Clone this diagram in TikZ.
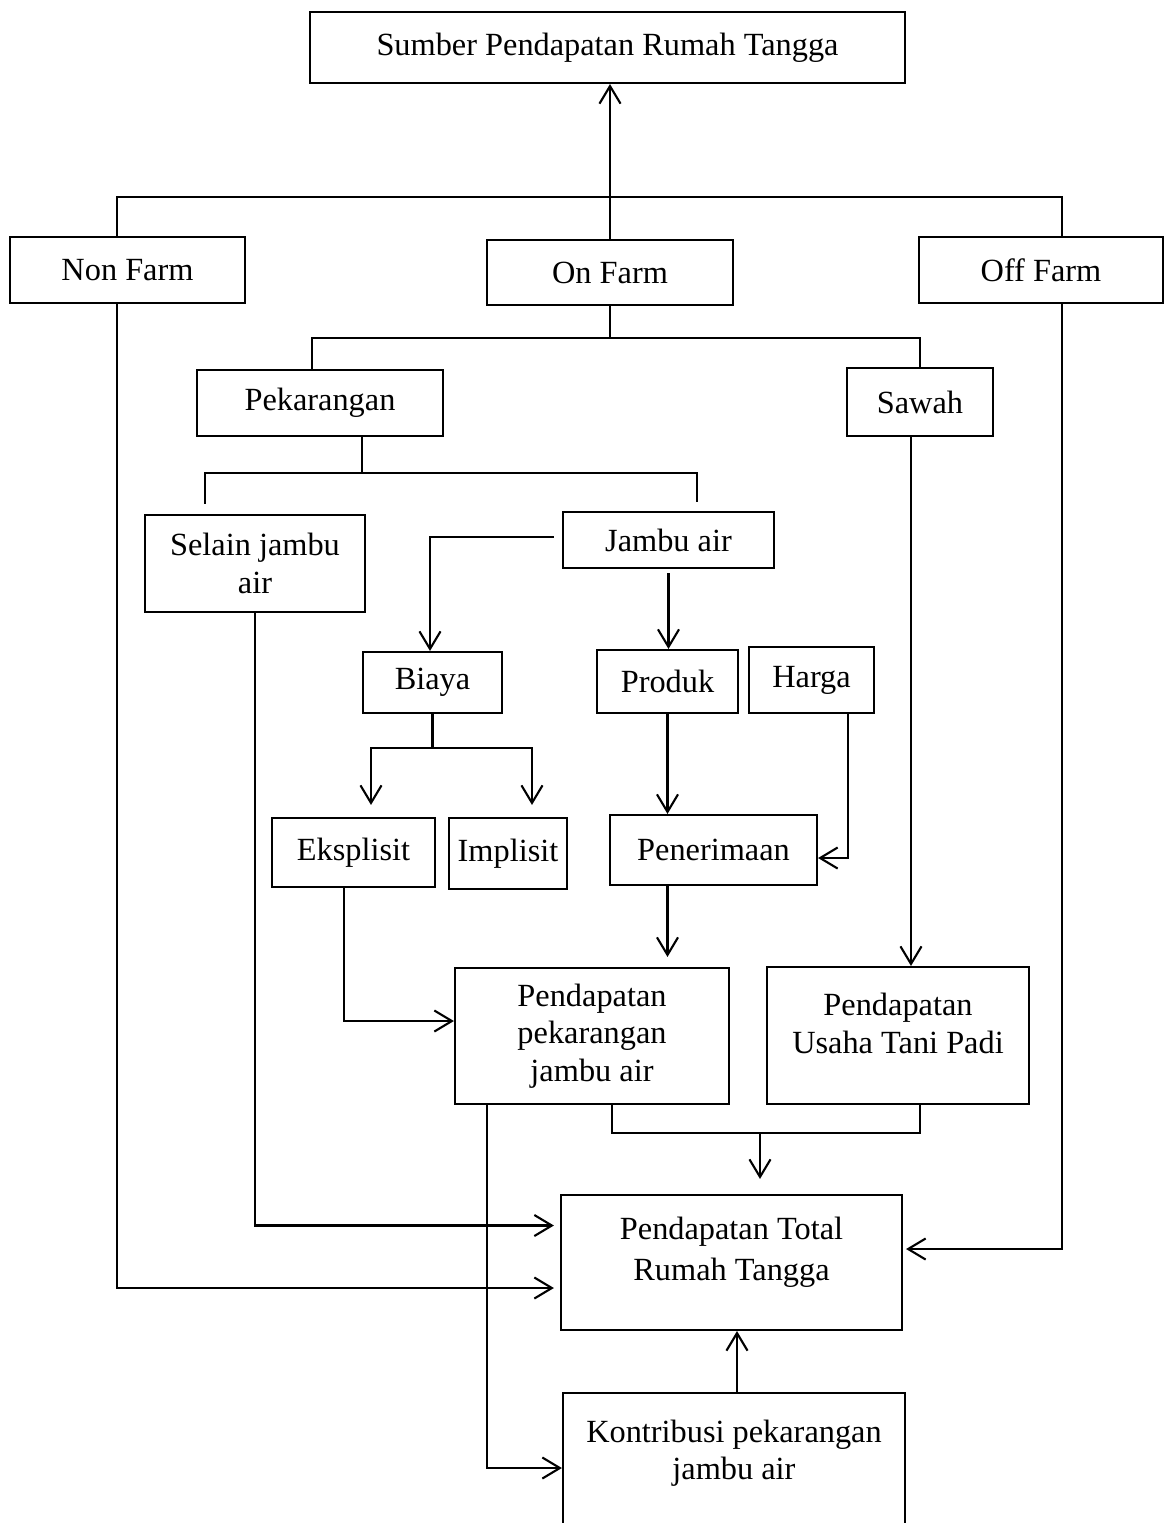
\documentclass[tikz,border=0pt]{standalone}
\usepackage{fontspec}
\setmainfont{Liberation Serif}
\usetikzlibrary{arrows.meta}

\begin{document}
\begin{tikzpicture}[font=\fontsize{9.2}{10.6}\selectfont, line width=0.6pt,
  >={Straight Barb[length=5pt, width=6pt]},
  kotak/.style={draw, inner sep=0pt, align=center}]
  \useasboundingbox (0,0) rectangle (11.65,-15.23);
  \node[kotak, minimum width=5.95cm, minimum height=0.71cm] (sumber) at (6.075,-0.475) {Sumber Pendapatan Rumah Tangga};
  \node[kotak, minimum width=2.35cm, minimum height=0.66cm] (nonfarm) at (1.275,-2.70) {Non Farm};
  \node[kotak, minimum width=2.46cm, minimum height=0.65cm] (onfarm) at (6.10,-2.725) {On Farm};
  \node[kotak, minimum width=2.44cm, minimum height=0.66cm] (offfarm) at (10.41,-2.70) {Off Farm};
  \node[kotak, minimum width=2.46cm, minimum height=0.66cm] (pekarangan) at (3.20,-4.03) {Pekarangan};
  \node[kotak, minimum width=1.46cm, minimum height=0.68cm] (sawah) at (9.20,-4.02) {Sawah};
  \node[kotak, minimum width=2.20cm, minimum height=0.97cm] (selain) at (2.55,-5.635) {Selain jambu\\air};
  \node[kotak, minimum width=2.11cm, minimum height=0.56cm] (jambu) at (6.685,-5.40) {Jambu air};
  \node[kotak, minimum width=1.39cm, minimum height=0.61cm] (biaya) at (4.325,-6.825) {Biaya};
  \node[kotak, minimum width=1.41cm, minimum height=0.63cm] (produk) at (6.675,-6.815) {Produk};
  \node[kotak, minimum width=1.25cm, minimum height=0.66cm] (harga) at (8.115,-6.80) {Harga};
  \node[kotak, minimum width=1.63cm, minimum height=0.69cm] (eksplisit) at (3.535,-8.525) {Eksplisit};
  \node[kotak, minimum width=1.18cm, minimum height=0.71cm] (implisit) at (5.08,-8.535) {Implisit};
  \node[kotak, minimum width=2.07cm, minimum height=0.70cm] (penerimaan) at (7.135,-8.50) {Penerimaan};
  \node[kotak, minimum width=2.74cm, minimum height=1.36cm] (pdpjambu) at (5.92,-10.36) {Pendapatan\\pekarangan\\jambu air};
  \node[kotak, minimum width=2.62cm, minimum height=1.37cm] (pdppadi) at (8.98,-10.355) {Pendapatan\\Usaha Tani Padi\\[-0.13cm]};
  \node[kotak, minimum width=3.41cm, minimum height=1.35cm] (total) at (7.315,-12.625) {Pendapatan Total\\[0.04cm]Rumah Tangga\\[-0.1cm]};
  \node[kotak, minimum width=3.42cm, minimum height=1.50cm] (kontribusi) at (7.34,-14.68) {Kontribusi pekarangan\\jambu air\\[-0.01cm]};

  \coordinate (kiri) at (1.17,-1.97);
  \coordinate (kanan) at (10.62,-1.97);
  \draw (kiri |- nonfarm.north) -- (kiri) -- (kanan) -- (kanan |- offfarm.north);
  \draw[->] (onfarm.north) -- (onfarm.north |- sumber.south);

  \coordinate (pek) at (3.12,-3.38);
  \coordinate (saw) at (9.20,-3.38);
  \draw (onfarm.south) -- (onfarm.south |- pek);
  \draw (pek |- pekarangan.north) -- (pek) -- (saw) -- (sawah.north);

  \coordinate (sel) at (2.05,-4.73);
  \coordinate (jam) at (6.97,-4.73);
  \draw ([xshift=0.42cm]pekarangan.south) -- ([xshift=0.42cm]pekarangan.south |- sel);
  \draw[shorten <=0.1cm, shorten >=0.09cm] (sel |- selain.north) -- (sel) -- (jam) -- (jam |- jambu.north);

  \draw[->, shorten <=0.08cm] ([yshift=0.03cm]jambu.west) -| ([xshift=-0.025cm]biaya.north);
  \draw[->, shorten <=0.04cm] (jambu.south) -- (jambu.south |- produk.north);

  \coordinate (eks) at (3.71,-7.48);
  \coordinate (imp) at (5.32,-7.48);
  \draw (biaya.south) -- (biaya.south |- eks);
  \draw[<->, shorten <=0.12cm, shorten >=0.12cm] (eks |- eksplisit.north) -- (eks) -- (imp) -- (imp |- implisit.north);

  \draw[->] (produk.south) -- (produk.south |- penerimaan.north);
  \draw[->] ([xshift=0.365cm]harga.south) |- ([yshift=-0.08cm]penerimaan.east);
  \draw[->, shorten >=0.1cm] (produk.south |- penerimaan.south) -- (produk.south |- pdpjambu.north);
  \draw[->] ([xshift=-0.09cm]sawah.south) -- ([xshift=-0.09cm]sawah.south |- pdppadi.north);
  \draw[->] ([xshift=-0.095cm]eksplisit.south) |- ([yshift=0.15cm]pdpjambu.west);

  \coordinate (gab) at (7.60,-11.33);
  \draw ([xshift=0.2cm]pdpjambu.south) |- (gab) -| ([xshift=0.22cm]pdppadi.south);
  \draw[->, shorten >=0.15cm] (gab) -- (gab |- total.north);

  \draw[->, shorten >=0.06cm] (selain.south) |- ([yshift=0.37cm]total.west);
  \draw[->, shorten >=0.06cm] (kiri |- nonfarm.south) |- ([yshift=-0.255cm]total.west);
  \draw[->, shorten >=0.03cm] (kanan |- offfarm.south) |- ([yshift=0.135cm]total.east);
  \draw[->] ([xshift=-1.05cm]pdpjambu.south) |- (kontribusi.west);
  \draw[->] ([xshift=0.03cm]kontribusi.north) -- ([xshift=0.03cm]kontribusi.north |- total.south);
\end{tikzpicture}
\end{document}
